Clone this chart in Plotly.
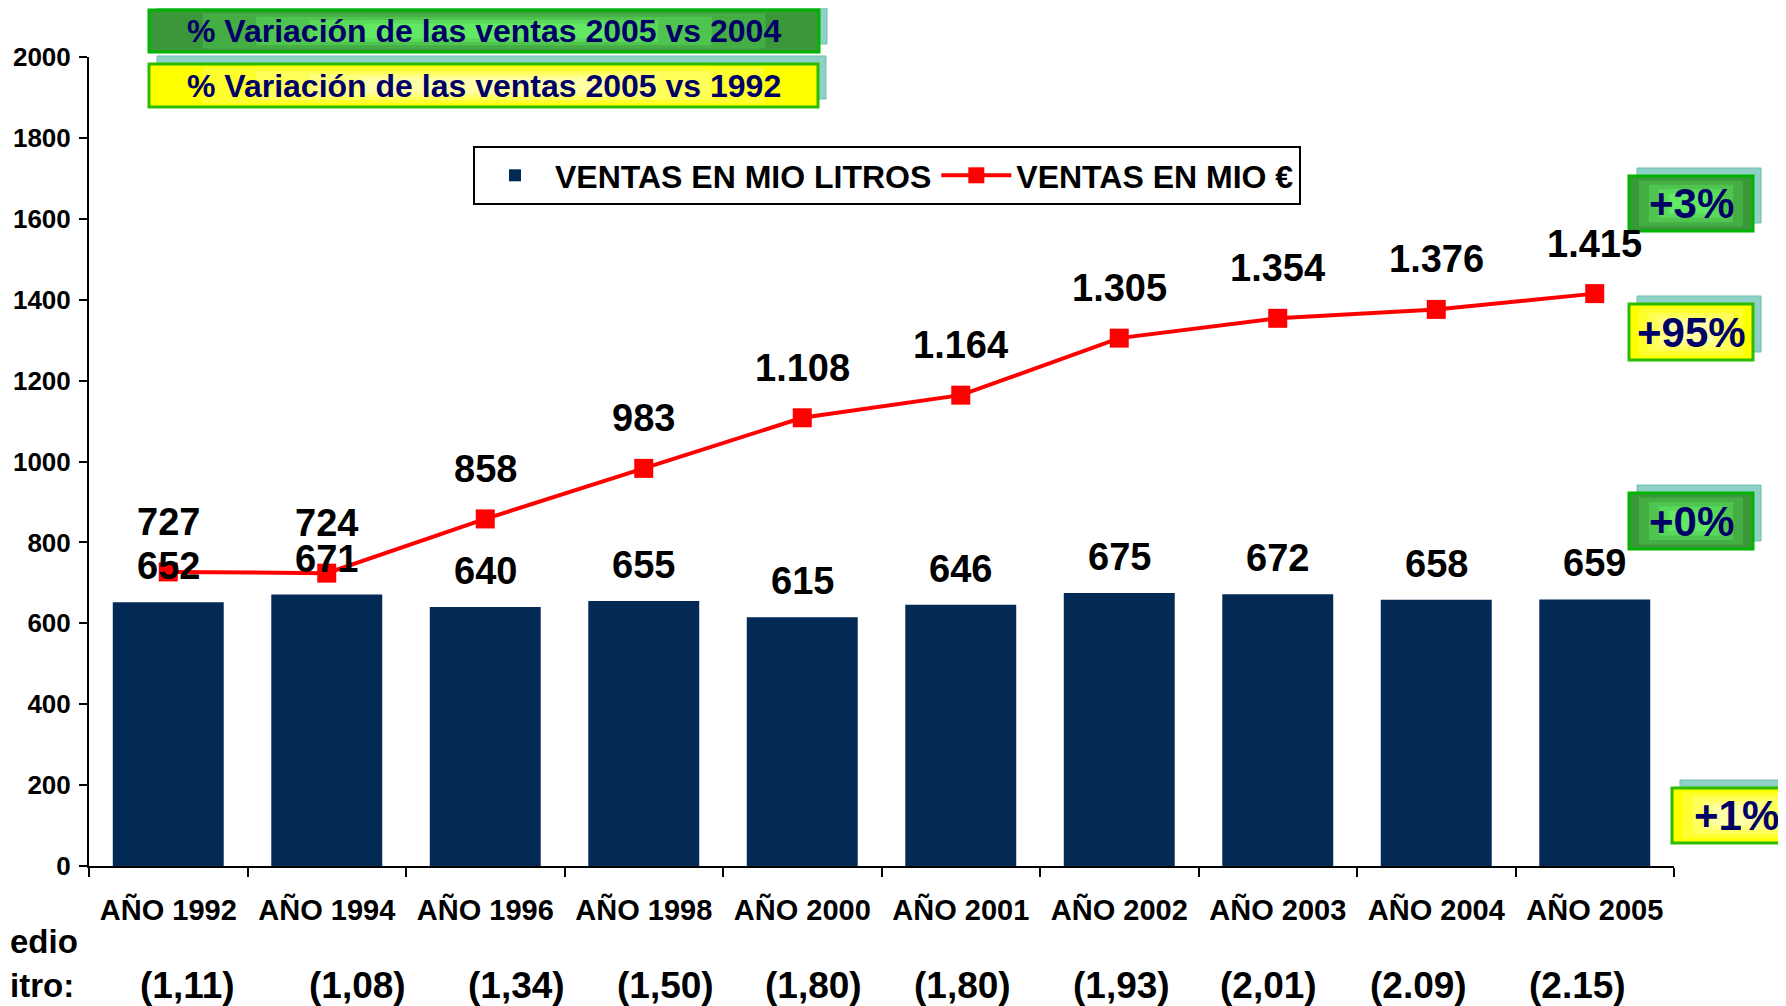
import plotly.graph_objects as go

# ---------------- data ----------------
categories = ["AÑO 1992", "AÑO 1994", "AÑO 1996", "AÑO 1998", "AÑO 2000",
              "AÑO 2001", "AÑO 2002", "AÑO 2003", "AÑO 2004", "AÑO 2005"]
ventas_litros = [652, 671, 640, 655, 615, 646, 675, 672, 658, 659]
ventas_euros = [727, 724, 858, 983, 1108, 1164, 1305, 1354, 1376, 1415]
precio_labels = ["(1,11)", "(1,08)", "(1,34)", "(1,50)", "(1,80)",
                 "(1,80)", "(1,93)", "(2,01)", "(2.09)", "(2.15)"]
y_ticks = [0, 200, 400, 600, 800, 1000, 1200, 1400, 1600, 1800, 2000]
var_2004_label = "% Variación de las ventas 2005 vs 2004"
var_1992_label = "% Variación de las ventas 2005 vs 1992"
var_eur_2004 = "+3%"
var_eur_1992 = "+95%"
var_lit_2004 = "+0%"
var_lit_1992 = "+1%"

# ---------------- layout helpers ----------------
W, H = 1786, 1006
OFF = 8  # default page margin of the html body
L, R, T, B = 89, 1674, 57, 866
FONT = "Liberation Sans, Arial, sans-serif"
NAVY_TXT = "#000066"


def px(x):
    return (x - L) / (R - L)


def py(y):
    return (B - y) / (B - T)


def fmt(v):
    return f"{v:,}".replace(",", ".")


fig = go.Figure()

fig.add_trace(go.Bar(
    x=categories, y=ventas_litros, name="VENTAS EN MIO LITROS",
    marker=dict(color="#032a55", line=dict(width=0)),
))
fig.add_trace(go.Scatter(
    x=categories, y=ventas_euros, name="VENTAS EN MIO €",
    mode="lines+markers",
    line=dict(color="#ff0000", width=4),
    marker=dict(symbol="square", size=19, color="#ff0000"),
))

annotations = []
for c, v in zip(categories, ventas_litros):
    annotations.append(dict(x=c, y=v, text=fmt(v), showarrow=False, yanchor="middle",
                            yshift=36, font=dict(family=FONT, size=38, color="black", weight="bold")))
for c, v in zip(categories, ventas_euros):
    annotations.append(dict(x=c, y=v, text=fmt(v), showarrow=False, yanchor="middle",
                            yshift=50, font=dict(family=FONT, size=38, color="black", weight="bold")))

price_shift = [19, 31, 31, 22, 11, 2, 2, -9, -18, -17]
for c, t, s in zip(categories, precio_labels, price_shift):
    annotations.append(dict(x=c, xref="x", y=py(985), yref="paper", text=t, showarrow=False,
                            yanchor="middle", xshift=s,
                            font=dict(family=FONT, size=37, color="black", weight="bold")))
annotations.append(dict(x=px(OFF), xref="paper", y=py(941), yref="paper", text="edio",
                        showarrow=False, xanchor="left", yanchor="middle",
                        font=dict(family=FONT, size=33, color="black", weight="bold")))
annotations.append(dict(x=px(OFF), xref="paper", y=py(985), yref="paper", text="itro:",
                        showarrow=False, xanchor="left", yanchor="middle",
                        font=dict(family=FONT, size=33, color="black", weight="bold")))

shapes = []


def box(x0, y0, x1, y1, kind, text, size):
    # teal shadow offset up-right
    shapes.append(dict(type="rect", xref="paper", yref="paper", layer="above",
                       x0=px(x0 + 8), x1=px(x1 + 8), y0=py(y0 - 8), y1=py(y1 - 8),
                       fillcolor="#8fd0c7", line=dict(color="#6fbfb4", width=1)))
    if kind == "green":
        layers = ["#3a973a", "#44ad44", "#4fc44f", "#5ad85a", "#62e862"]
        border = "#00b400"
    else:
        layers = ["#ffff00", "#ffff30", "#ffff5a", "#ffff80", "#ffffa8"]
        border = "#2cbc00"
    w, h = x1 - x0, y1 - y0
    for i, col in enumerate(layers):
        fx = 0.08 * i * w
        fy = 0.08 * i * h
        shapes.append(dict(type="rect", xref="paper", yref="paper", layer="above",
                           x0=px(x0 + fx), x1=px(x1 - fx), y0=py(y0 + fy), y1=py(y1 - fy),
                           fillcolor=col, line=dict(width=0)))
    shapes.append(dict(type="rect", xref="paper", yref="paper", layer="above",
                       x0=px(x0), x1=px(x1), y0=py(y0), y1=py(y1),
                       fillcolor="rgba(0,0,0,0)", line=dict(color=border, width=3)))
    annotations.append(dict(x=px((x0 + x1) / 2), y=py((y0 + y1) / 2), xref="paper", yref="paper",
                            text=text, showarrow=False, xanchor="center", yanchor="middle",
                            font=dict(family=FONT, size=size, color=NAVY_TXT, weight="bold")))


box(149, 10, 819, 52, "green", var_2004_label, 32)
box(149, 64, 818, 107, "yellow", var_1992_label, 32)
box(1629, 176, 1753, 231, "green", var_eur_2004, 42)
box(1629, 304, 1753, 360, "yellow", var_eur_1992, 42)
box(1629, 493, 1753, 549, "green", var_lit_2004, 42)
box(1672, 788, 1800, 843, "yellow", var_lit_1992, 42)

fig.update_layout(
    width=W - OFF, height=H - OFF,
    margin=dict(l=L - OFF, r=W - R, t=T - OFF, b=H - B, pad=0, autoexpand=False),
    paper_bgcolor="white", plot_bgcolor="white",
    bargap=0.3,
    showlegend=True,
    legend=dict(orientation="h", x=px(473), y=py(146), xanchor="left", yanchor="top",
                bordercolor="black", borderwidth=2, bgcolor="white",
                font=dict(family=FONT, size=32, color="black", weight="bold"),
                itemwidth=70),
    annotations=annotations,
    shapes=shapes,
    font=dict(family=FONT, color="black"),
)
fig.update_xaxes(type="category", range=[-0.5, len(categories) - 0.5], automargin=False,
                 showline=True, linecolor="black", linewidth=2,
                 ticks="outside", tickson="boundaries", ticklen=9, tickcolor="black", tickwidth=2,
                 showgrid=False, ticklabelstandoff=17,
                 tickfont=dict(family=FONT, size=29, color="black", weight="bold"))
fig.update_yaxes(range=[0, 2000], tickvals=y_ticks, automargin=False,
                 showline=True, linecolor="black", linewidth=2,
                 ticks="outside", ticklen=8, tickcolor="black", tickwidth=2,
                 showgrid=False, zeroline=False, ticklabelstandoff=3,
                 tickfont=dict(family=FONT, size=26, color="black", weight="bold"))

fig.write_html("out.html")
